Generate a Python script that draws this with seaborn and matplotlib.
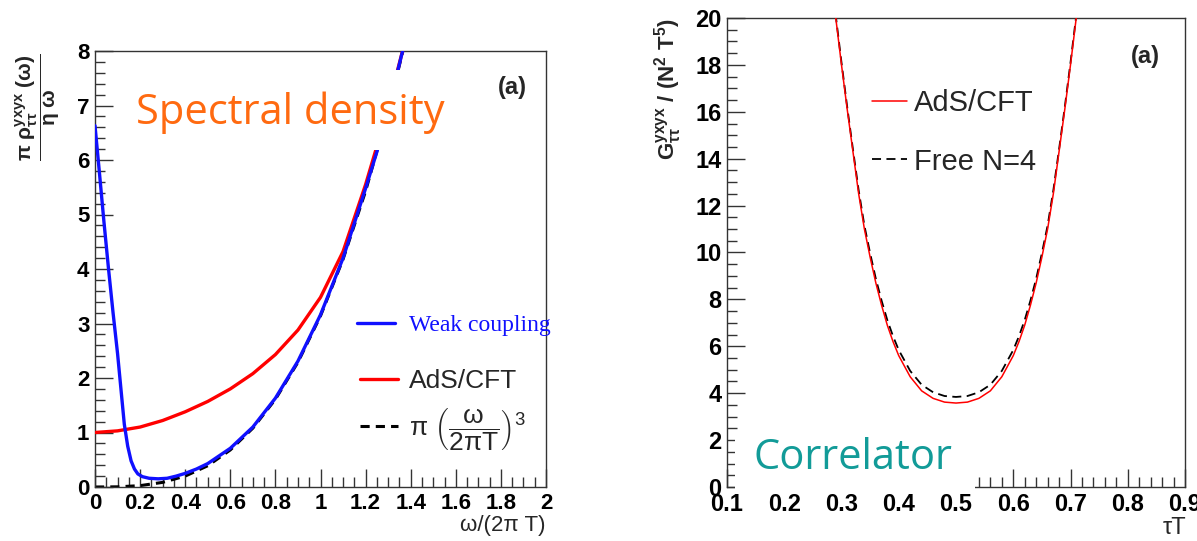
import numpy as np
import matplotlib
matplotlib.use("Agg")
import matplotlib.pyplot as plt
import seaborn as sns
from matplotlib.patches import Rectangle
from matplotlib.ticker import MultipleLocator

# --- spectral density (left panel) ---
w_weak = [0.0, 0.02, 0.04, 0.06, 0.08, 0.1, 0.115, 0.13, 0.145, 0.16, 0.175, 0.19,
          0.21, 0.24, 0.28, 0.32, 0.36, 0.4, 0.45, 0.5, 0.6, 0.7, 0.8, 0.9, 1.0,
          1.1, 1.2, 1.25, 1.3, 1.37]
rho_weak = [6.63, 5.75, 4.85, 4.0, 3.2, 2.45, 1.8, 1.15, 0.75, 0.48, 0.33, 0.24,
            0.19, 0.16, 0.15, 0.16, 0.2, 0.25, 0.33, 0.43, 0.71, 1.1, 1.63, 2.31, 3.16,
            4.2, 5.48, 6.15, 6.92, 8.1]

w_ads = [0.0, 0.1, 0.2, 0.3, 0.4, 0.5, 0.6, 0.7, 0.8, 0.9, 1.0, 1.1, 1.2, 1.25, 1.3, 1.37]
rho_ads = [1.0, 1.03, 1.1, 1.22, 1.38, 1.57, 1.8, 2.08, 2.43, 2.88, 3.48, 4.32, 5.55,
           6.25, 6.98, 8.1]

w_free = [0.0, 0.1, 0.2, 0.3, 0.4, 0.5, 0.6, 0.7, 0.8, 0.9, 1.0, 1.1, 1.2, 1.3, 1.37]
rho_free = [0.0, 0.003, 0.025, 0.085, 0.2, 0.39, 0.68, 1.08, 1.61, 2.29, 3.14, 4.18,
            5.43, 6.9, 8.08]

# --- correlator (right panel) ---
tau = [0.285, 0.29, 0.30, 0.31, 0.32, 0.33, 0.34, 0.35, 0.36, 0.37, 0.38, 0.39, 0.40,
       0.42, 0.44, 0.46, 0.48, 0.50, 0.52, 0.54, 0.56, 0.58, 0.60, 0.61, 0.62, 0.63,
       0.64, 0.65, 0.66, 0.67, 0.68, 0.69, 0.70, 0.71, 0.715]
g_ads = [21.0, 20.0, 18.0, 16.1, 14.3, 12.5, 11.0, 9.8, 8.7, 7.75, 6.9, 6.2, 5.6,
         4.7, 4.1, 3.78, 3.62, 3.58, 3.62, 3.78, 4.1, 4.7, 5.6, 6.2, 6.9, 7.75,
         8.7, 9.8, 11.0, 12.5, 14.3, 16.1, 18.0, 20.0, 21.0]
g_free = [21.1, 20.1, 18.1, 16.2, 14.4, 12.65, 11.15, 9.97, 8.88, 7.95, 7.12, 6.43, 5.84,
          4.95, 4.36, 4.04, 3.88, 3.84, 3.88, 4.04, 4.36, 4.95, 5.84, 6.43, 7.12, 7.95,
          8.88, 9.97, 11.15, 12.65, 14.4, 16.2, 18.1, 20.1, 21.1]

sns.set_style("ticks")
plt.rcParams["font.family"] = ["Liberation Sans", "DejaVu Sans"]
plt.rcParams["mathtext.fontset"] = "custom"
plt.rcParams["mathtext.rm"] = "Liberation Sans"
plt.rcParams["mathtext.it"] = "Liberation Sans:italic"
plt.rcParams["mathtext.bf"] = "Liberation Sans:bold"

W, H = 1197, 541
fig = plt.figure(figsize=(W / 100, H / 100), dpi=100)


def px_axes(x0, y0, x1, y1):
    return fig.add_axes([x0 / W, 1 - y1 / H, (x1 - x0) / W, (y1 - y0) / H])


def root_style(ax, fs):
    for s in ax.spines.values():
        s.set_color("#333333")
        s.set_linewidth(1.0)
    ax.tick_params(which="both", direction="in", top=False, right=False,
                   colors="#333333", labelcolor="black", labelsize=fs, pad=4)
    ax.tick_params(which="major", length=13, width=1)
    ax.tick_params(which="minor", length=7, width=1)
    for lab in ax.get_xticklabels() + ax.get_yticklabels():
        lab.set_fontweight("bold")


# ---------------- left panel ----------------
ax1 = px_axes(95, 51, 546, 487)
sns.lineplot(x=w_free, y=rho_free, ax=ax1, color="black", lw=2.2, linestyle=(0, (3, 2)),
             label=r"π $\left(\dfrac{\mathrm{ω}}{\mathrm{2πT}}\right)^{3}$", zorder=2)
sns.lineplot(x=w_ads, y=rho_ads, ax=ax1, color="#ff0000", lw=2.4, label="AdS/CFT", zorder=3)
sns.lineplot(x=w_weak, y=rho_weak, ax=ax1, color="#1010ff", lw=2.4, label="Weak coupling",
             zorder=4)
ax1.set_xlim(0, 2)
ax1.set_ylim(0, 8)
ax1.xaxis.set_minor_locator(MultipleLocator(0.05))
ax1.yaxis.set_major_locator(MultipleLocator(1))
ax1.yaxis.set_minor_locator(MultipleLocator(0.2))
ax1.set_xticks(np.arange(0, 2.01, 0.2))
ax1.set_xticklabels(["0", "0.2", "0.4", "0.6", "0.8", "1", "1.2", "1.4", "1.6", "1.8", "2"])
ax1.set_xlabel("")
ax1.set_ylabel("")
root_style(ax1, 16)

h, l = ax1.get_legend_handles_labels()
leg_weak = ax1.legend([h[2]], [l[2]], loc="center left",
                      bbox_to_anchor=(357 / W, 1 - 325 / H), bbox_transform=fig.transFigure,
                      frameon=False, handlelength=1.6, handletextpad=0.6,
                      borderpad=0, borderaxespad=0,
                      prop={"family": "Liberation Serif", "size": 17})
leg_weak.get_texts()[0].set_color("#1010ff")
ax1.add_artist(leg_weak)
ax1.legend([h[1], h[0]], [l[1], l[0]], loc="upper left",
           bbox_to_anchor=(360 / W, 1 - 369 / H), bbox_transform=fig.transFigure,
           frameon=False, fontsize=19, handlelength=1.45, handletextpad=0.4,
           labelspacing=0.5, borderpad=0, borderaxespad=0)

ax1.text(0.925, 0.917, "(a)", transform=ax1.transAxes, ha="center", va="center",
         fontsize=17, fontweight="bold")

# ---------------- right panel ----------------
ax2 = px_axes(727, 18, 1185, 487)
sns.lineplot(x=tau, y=g_ads, ax=ax2, color="#ff0000", lw=1.1, label="AdS/CFT", zorder=3)
sns.lineplot(x=tau, y=g_free, ax=ax2, color="black", lw=1.3, linestyle=(0, (5, 3)),
             label="Free N=4", zorder=2)
ax2.set_xlim(0.1, 0.9)
ax2.set_ylim(0, 20)
ax2.xaxis.set_minor_locator(MultipleLocator(0.02))
ax2.yaxis.set_major_locator(MultipleLocator(2))
ax2.yaxis.set_minor_locator(MultipleLocator(0.5))
ax2.set_xticks(np.arange(0.1, 0.91, 0.1))
ax2.set_xticklabels(["0.1", "0.2", "0.3", "0.4", "0.5", "0.6", "0.7", "0.8", "0.9"])
ax2.set_xlabel("")
ax2.set_ylabel("")
root_style(ax2, 17)

ax2.legend(loc="upper left", bbox_to_anchor=(872 / W, 1 - 89 / H),
           bbox_transform=fig.transFigure, frameon=False, fontsize=21,
           handlelength=1.2, handletextpad=0.25, labelspacing=1.05,
           borderpad=0, borderaxespad=0)
ax2.text(0.913, 0.917, "(a)", transform=ax2.transAxes, ha="center", va="center",
         fontsize=17, fontweight="bold")

# axis titles
fig.text(39 / W, 1 - 54 / H,
         r"$\mathbf{\dfrac{π\ ρ^{yxyx}_{ττ}\ (ω)}{η\ ω}}$",
         rotation=90, ha="center", va="top", fontsize=15)
fig.text(545 / W, 1 - 525 / H, "ω/(2π T)", ha="right", va="center", fontsize=16)
fig.text(668 / W, 1 - 18 / H, r"$\mathbf{G^{yxyx}_{ττ}\ /\ (N^2\ T^5)}$",
         rotation=90, ha="center", va="top", fontsize=16)
fig.text(1186 / W, 1 - 528 / H, "τT", ha="right", va="center", fontsize=17)

# slide annotations on white boxes
fig.add_artist(Rectangle((130 / W, 1 - 150 / H), 322 / W, 80 / H, transform=fig.transFigure,
                         facecolor="white", edgecolor="none", zorder=10))
fig.text(290 / W, 1 - 113 / H, "Spectral density", ha="center", va="center",
         fontsize=30, color="#ff6a10", family=["Open Sans", "DejaVu Sans"], zorder=11)
fig.add_artist(Rectangle((735 / W, 1 - 493 / H), 240 / W, 63 / H, transform=fig.transFigure,
                         facecolor="white", edgecolor="none", zorder=10))
fig.text(853 / W, 1 - 458 / H, "Correlator", ha="center", va="center",
         fontsize=30, color="#129b98", family=["Open Sans", "DejaVu Sans"], zorder=11)

fig.savefig("out.png", dpi=100, facecolor="white")
